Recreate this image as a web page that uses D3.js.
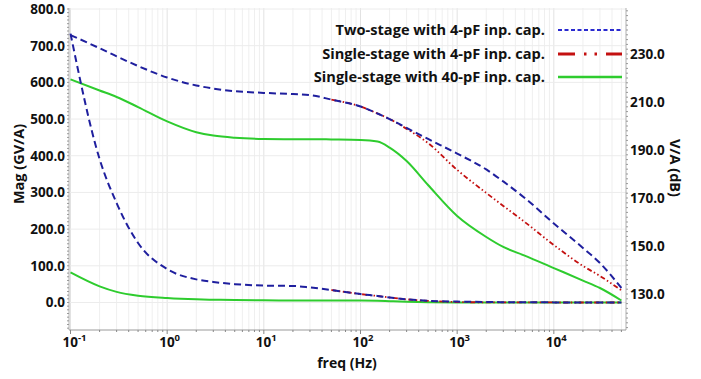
<!DOCTYPE html>
<html>
<head>
<meta charset="utf-8">
<script src="https://cdn.jsdelivr.net/npm/d3@7"></script>
<style>
  html, body { margin: 0; padding: 0; background: #fff; }
  svg { display: block; }
  text { font-family: "Open Sans", "DejaVu Sans", sans-serif; font-weight: 700; fill: #111; }
</style>
</head>
<body>
<svg id="chart" width="701" height="379"></svg>
<script>
// ---------------- data ----------------
const freqs = [0.1, 0.2, 0.3, 0.5, 1, 2, 3, 5, 10, 20, 30, 50, 100, 150, 200, 300, 500, 1000, 2000, 3000, 5000, 10000, 20000, 30000, 50000];
// the single-stage 4-pF curve is only visible (not hidden under the two-stage curve) from ~50 Hz
const redFreqs = [50, 100, 150, 200, 300, 500, 1000, 2000, 3000, 5000, 10000, 20000, 30000, 50000];

// magnitude curves in dB (right axis)
const twoStage4pF_dB    = [237.9, 232.4, 229.0, 225.0, 220.2, 216.9, 215.6, 214.5, 213.8, 213.3, 212.9, 211.0, 208.1, 205.2, 202.9, 199.2, 194.6, 188.5, 181.9, 176.9, 170.0, 159.4, 149.2, 142.9, 132.5];
const singleStage4pF_dB = [211.0, 208.1, 205.2, 202.9, 198.8, 192.9, 181.7, 172.1, 166.7, 160.0, 150.4, 141.7, 137.5, 131.5];
const singleStage40pF_dB= [219.4, 214.8, 212.1, 207.9, 201.9, 197.4, 196.0, 195.1, 194.6, 194.5, 194.5, 194.4, 194.2, 193.5, 191.0, 185.4, 175.4, 162.5, 153.75, 149.6, 146.0, 140.8, 135.6, 132.5, 127.3];

// magnitude curves in GV/A (left axis)
const twoStage4pF_mag    = [733, 391, 271, 162, 91, 63, 56, 50, 46, 45, 41, 34, 23, 17.7, 13.6, 8.7, 4.6, 2.5, 1.3, 0.9, 0.5, 0.3, 0.15, 0.1, 0.05];
const singleStage4pF_mag = [34, 23, 17.7, 13.6, 8.5, 4.3, 1.2, 0.4, 0.22, 0.1, 0.03, 0.012, 0.008, 0.004];
const singleStage40pF_mag= [82, 44, 29, 18.5, 12, 8.5, 7.5, 6.5, 5.8, 5.5, 5.4, 5.3, 5.2, 4.9, 3.6, 1.9, 0.6, 0.14, 0.05, 0.03, 0.02, 0.01, 0.005, 0.004, 0.002];

const seriesNames = ["Two-stage with 4-pF inp. cap.", "Single-stage with 4-pF inp. cap.", "Single-stage with 40-pF inp. cap."];
const leftTicks = [0, 100, 200, 300, 400, 500, 600, 700, 800];
const rightTicks = [130, 150, 170, 190, 210, 230];
const xTicks = [0.1, 1, 10, 100, 1000, 10000];
const xTickExp = ["-1", "0", "1", "2", "3", "4"];

// ---------------- layout ----------------
const svg = d3.select("#chart");
const plot = { left: 69, right: 626, top: 8, bottom: 330 };

const x = d3.scaleLog().domain([0.1, 55000]).range([70.5, 625.4]);
const yL = d3.scaleLinear().domain([-75, 800]).range([330, 9]);
const yR = d3.scaleLinear().domain([115, 248.75]).range([330, 9]);

const colors = { blue: "#1f1f9e", red: "#c41010", green: "#2ecc2e", legendBlue: "#2a2ad0" };

// ---------------- grid ----------------
const grid = svg.append("g");
const minorX = [];
for (let e = -1; e <= 4; e++) for (let m = 1; m <= 9; m++) {
  const v = m * Math.pow(10, e);
  if (v >= 0.1 && v <= 55000) minorX.push(v);
}
grid.selectAll("line.vx").data(minorX).enter().append("line")
  .attr("x1", d => x(d)).attr("x2", d => x(d))
  .attr("y1", plot.top).attr("y2", plot.bottom)
  .attr("stroke", d => xTicks.includes(d) ? "#e2e2e2" : "#efefef")
  .attr("stroke-width", 1);
grid.selectAll("line.hy").data(leftTicks).enter().append("line")
  .attr("x1", plot.left).attr("x2", plot.right)
  .attr("y1", d => yL(d)).attr("y2", d => yL(d))
  .attr("stroke", "#ececec").attr("stroke-width", 1);

// ---------------- axes ----------------
// left axis
const leftAxis = svg.append("g").attr("transform", `translate(${plot.left},0)`);
leftAxis.call(d3.axisLeft(yL).tickValues(leftTicks).tickFormat(d3.format(".1f")).tickSize(0).tickPadding(4));
leftAxis.select(".domain").remove();
leftAxis.selectAll("text").attr("font-size", 13.5).attr("font-family", "Open Sans").attr("font-weight", 700).attr("fill", "#111");
leftAxis.append("line").attr("x1", 0).attr("x2", 0).attr("y1", plot.top).attr("y2", plot.bottom).attr("stroke", "#b0b0b0");
const minorL = d3.range(-70, 801, 10);
leftAxis.selectAll("line.mt").data(minorL).enter().append("line")
  .attr("x1", -2).attr("x2", 0).attr("y1", d => yL(d)).attr("y2", d => yL(d)).attr("stroke", "#999");

// right axis
const rightAxis = svg.append("g").attr("transform", `translate(${plot.right},0)`);
rightAxis.call(d3.axisRight(yR).tickValues(rightTicks).tickFormat(d3.format(".1f")).tickSize(0).tickPadding(4));
rightAxis.select(".domain").remove();
rightAxis.selectAll("text").attr("font-size", 13.5).attr("font-family", "Open Sans").attr("font-weight", 700).attr("fill", "#111");
rightAxis.append("line").attr("x1", 0).attr("x2", 0).attr("y1", plot.top).attr("y2", plot.bottom).attr("stroke", "#b0b0b0");
const minorR = d3.range(116, 249, 2);
rightAxis.selectAll("line.mt").data(minorR).enter().append("line")
  .attr("x1", 0).attr("x2", 2).attr("y1", d => yR(d)).attr("y2", d => yR(d)).attr("stroke", "#999");

// bottom axis
const bottom = svg.append("g");
bottom.append("line").attr("x1", plot.left).attr("x2", plot.right).attr("y1", plot.bottom).attr("y2", plot.bottom).attr("stroke", "#9a9a9a");
bottom.selectAll("line.xt").data(minorX).enter().append("line")
  .attr("x1", d => x(d)).attr("x2", d => x(d))
  .attr("y1", plot.bottom).attr("y2", d => plot.bottom + (xTicks.includes(d) ? 4 : 2))
  .attr("stroke", "#888");
const xl = bottom.selectAll("text.xl").data(xTicks).enter().append("text")
  .attr("x", d => x(d)).attr("y", 347)
  .attr("font-size", 13.5).attr("text-anchor", "start");
xl.append("tspan").attr("dx", -8).text("10");
xl.append("tspan").attr("dy", -6).attr("font-size", 9.5).text((d, i) => xTickExp[i]);

// axis titles
svg.append("text").attr("transform", "translate(24,164) rotate(-90)")
  .attr("text-anchor", "middle").attr("font-size", 14.5).text("Mag (GV/A)");
svg.append("text").attr("transform", "translate(669.5,168) rotate(90)")
  .attr("text-anchor", "middle").attr("font-size", 14.5).text("V/A (dB)");
svg.append("text").attr("x", 347).attr("y", 368)
  .attr("text-anchor", "middle").attr("font-size", 14).text("freq (Hz)");

// ---------------- lines ----------------
const lineL = d3.line().x(d => x(d[0])).y(d => yL(d[1])).curve(d3.curveMonotoneX);
const lineR = d3.line().x(d => x(d[0])).y(d => yR(d[1])).curve(d3.curveMonotoneX);
const zip = (fs, arr) => fs.map((f, i) => [f, arr[i]]);

const lines = svg.append("g").attr("fill", "none");
lines.append("path").attr("d", lineL(zip(freqs, singleStage40pF_mag))).attr("stroke", colors.green).attr("stroke-width", 2);
lines.append("path").attr("d", lineR(zip(freqs, singleStage40pF_dB))).attr("stroke", colors.green).attr("stroke-width", 2);
lines.append("path").attr("d", lineL(zip(redFreqs, singleStage4pF_mag))).attr("stroke", colors.red).attr("stroke-width", 1.8).attr("stroke-dasharray", "5,2.5,1.5,2.5,1.5,2.5");
lines.append("path").attr("d", lineR(zip(redFreqs, singleStage4pF_dB))).attr("stroke", colors.red).attr("stroke-width", 1.8).attr("stroke-dasharray", "5,2.5,1.5,2.5,1.5,2.5");
lines.append("path").attr("d", lineL(zip(freqs, twoStage4pF_mag))).attr("stroke", colors.blue).attr("stroke-width", 2).attr("stroke-dasharray", "7,4");
lines.append("path").attr("d", lineR(zip(freqs, twoStage4pF_dB))).attr("stroke", colors.blue).attr("stroke-width", 2).attr("stroke-dasharray", "7,4");

// ---------------- legend ----------------
const legendRows = [
  { name: seriesNames[0], y: 30, color: colors.legendBlue, dash: "4,2.5", w: 2 },
  { name: seriesNames[1], y: 54, color: colors.red, dash: "17,9,2.5,8,2.5,9", w: 3 },
  { name: seriesNames[2], y: 77, color: colors.green, dash: null, w: 2.5 }
];
const lg = svg.append("g");
legendRows.forEach(r => {
  lg.append("text").attr("x", 545).attr("y", r.y + 5).attr("text-anchor", "end").attr("font-size", 14.6).text(r.name);
  const ln = lg.append("line").attr("x1", 558).attr("x2", 622).attr("y1", r.y).attr("y2", r.y)
    .attr("stroke", r.color).attr("stroke-width", r.w);
  if (r.dash) ln.attr("stroke-dasharray", r.dash);
});
</script>
</body>
</html>
